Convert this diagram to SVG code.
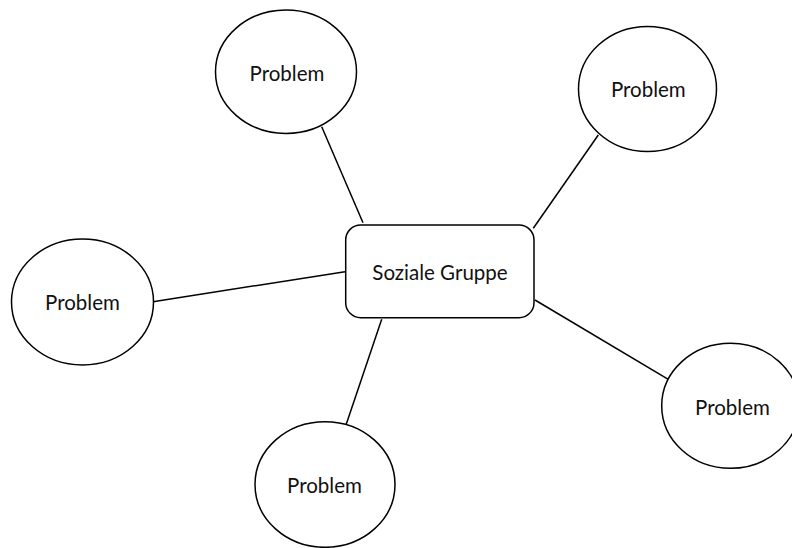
<svg xmlns="http://www.w3.org/2000/svg" width="792" height="548" viewBox="0 0 792 548">
  <style>
    .shape { fill: #ffffff; stroke: #000000; stroke-width: 1.5; }
    .link { stroke: #000000; stroke-width: 1.5; fill: none; }
    .label { font-family: Lato, "Open Sans", sans-serif; font-size: 20.5px; fill: #111111; text-anchor: middle; }
  </style>
  <rect width="792" height="548" fill="#ffffff"/>

  <!-- connectors from the central group to each problem -->
  <g id="connectors">
    <line class="link" x1="321.7" y1="126.7" x2="363" y2="222.7"/>
    <line class="link" x1="598.3" y1="135" x2="533.3" y2="228.3"/>
    <line class="link" x1="153" y1="301.7" x2="345" y2="271.7"/>
    <line class="link" x1="381.7" y1="319.3" x2="346" y2="425"/>
    <line class="link" x1="535" y1="300" x2="668.3" y2="379.3"/>
  </g>

  <g id="center">
    <rect class="shape" x="345.7" y="225" width="188.3" height="92.7" rx="15" ry="15"/>
    <text class="label" x="440" y="280">Soziale Gruppe</text>
  </g>

  <g id="problem-top-left">
    <ellipse class="shape" cx="286" cy="71.7" rx="70.5" ry="61.7"/>
    <text class="label" x="287" y="80.5">Problem</text>
  </g>

  <g id="problem-top-right">
    <ellipse class="shape" cx="647.5" cy="89" rx="69" ry="62.5"/>
    <text class="label" x="648.3" y="97">Problem</text>
  </g>

  <g id="problem-left">
    <ellipse class="shape" cx="82.5" cy="302" rx="71" ry="63"/>
    <text class="label" x="82.5" y="310">Problem</text>
  </g>

  <g id="problem-right">
    <ellipse class="shape" cx="730.5" cy="405.8" rx="68.8" ry="62.5"/>
    <text class="label" x="732.5" y="415">Problem</text>
  </g>

  <g id="problem-bottom">
    <ellipse class="shape" cx="325" cy="484.5" rx="70" ry="62.8"/>
    <text class="label" x="324.5" y="492.7">Problem</text>
  </g>
</svg>
